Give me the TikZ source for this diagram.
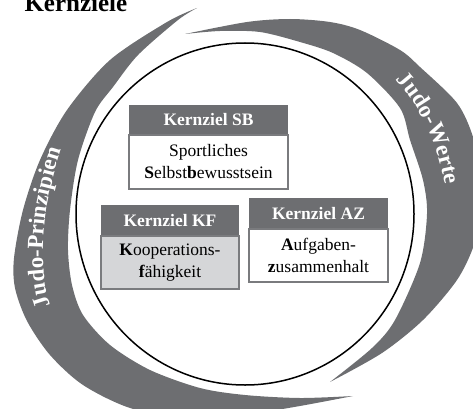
\documentclass[tikz,border=0pt]{standalone}
\usepackage{fontspec}
\setmainfont{Liberation Serif}
\usetikzlibrary{positioning, decorations.text}
\definecolor{bandgrau}{HTML}{6D6E71}
\definecolor{randgrau}{HTML}{7A7B7E}
\definecolor{feldgrau}{HTML}{D5D6D8}
\newcommand{\boxschrift}{\fontsize{17.5}{22}\selectfont}
\newcommand{\bandschrift}{\bfseries\fontsize{23}{23}\selectfont}

\begin{document}
\begin{tikzpicture} [x = 1pt, y = 1pt,
  band/.style = {fill = bandgrau},
  ring/.style = {black, line width = 1.5pt},
  kopf/.style = {fill = bandgrau, text = white, font = \boxschrift\bfseries, inner sep = 0pt, outer sep = 0pt},
  feld/.style = {draw = randgrau, line width = 1.2pt, fill = white, font = \boxschrift, align = center, inner sep = 0pt, outer sep = 0pt},
  bandtext/.style = {decorate, decoration = {text along path, text = {|\bandschrift|#1}, text align = center, text color = white}}]
\useasboundingbox (0, 0) rectangle (473, 408);
\clip (0, 0) rectangle (473, 408);
\coordinate (mitte) at (245, 194);
\node[black, anchor = base west, font = \bfseries\fontsize{25}{25}\selectfont] (titel) at (21, 396) {Kernziele};
\fill[band] plot[smooth] coordinates {(197, 400) (167, 386) (110, 348) (67, 298) (40, 248) (23, 198) (14, 150) (15, 120) (27, 87) (50, 53) (83, 23) (130, 0) (190, -12) (250, -6) (300, 2) (353, 12)} -- plot[smooth] coordinates {(353, 12) (300, 10) (245, 13) (200, 20) (150, 38) (110, 63) (83, 93) (72, 123) (68, 158) (70, 198) (78, 248) (95, 296) (113, 321) (138, 353) (178, 388) (197, 400)} -- cycle;
\fill[band] plot[smooth] coordinates {(185, 374) (247, 386) (290, 389) (330, 386) (360, 378) (400, 358) (420, 341) (457, 305) (473, 271) (480, 233) (481, 198) (474, 163) (457, 128) (423, 88) (382, 55) (330, 26)} -- plot[smooth] coordinates {(330, 26) (372, 60) (395, 88) (420, 145) (427, 194) (423, 228) (410, 268) (400, 300) (367, 335) (333, 355) (300, 366) (260, 376) (220, 377) (185, 374)} -- cycle;
\path[bandtext = Judo-Prinzipien] plot[smooth] coordinates {(60, 78) (46, 118) (43, 158) (46, 198) (54, 233) (63, 263) (72, 283)};
\path[bandtext = Judo-Werte] ([shift = {(55:202)}]mitte) arc [start angle = 55, end angle = -5, radius = 202];
\draw[ring] (mitte) ellipse [x radius = 169, y radius = 171];
\node[kopf, minimum width = 159pt, minimum height = 30pt] (sbkopf) at (208.5, 288) {Kernziel SB};
\node[feld, minimum width = 159pt, minimum height = 54pt, below = 0pt of sbkopf] (sbfeld) {Sportliches\\\textbf{S}elbst\textbf{b}ewusstsein};
\node[kopf, minimum width = 138pt, minimum height = 31pt] (kfkopf) at (170, 187.5) {Kernziel KF};
\node[feld, fill = feldgrau, minimum width = 138pt, minimum height = 53pt, below = 0pt of kfkopf] (kffeld) {\textbf{K}ooperations-\\\textbf{f}ähigkeit};
\node[kopf, minimum width = 139pt, minimum height = 31pt] (azkopf) at (318.5, 194.5) {Kernziel AZ};
\node[feld, minimum width = 139pt, minimum height = 53pt, below = 0pt of azkopf] (azfeld) {\textbf{A}ufgaben-\\\textbf{z}usammenhalt};
\end{tikzpicture}
\end{document}
